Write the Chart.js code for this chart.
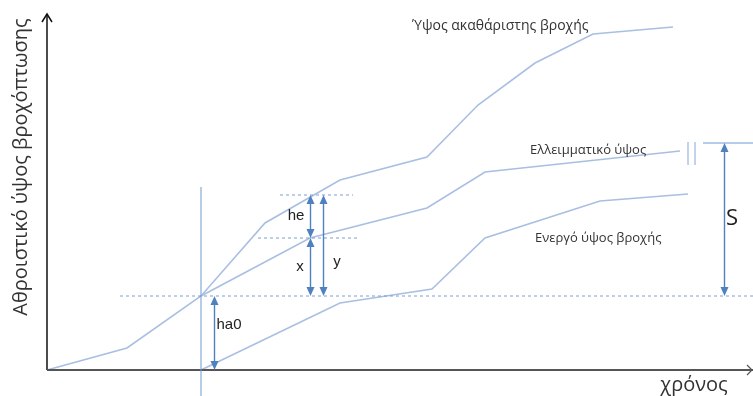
<!DOCTYPE html>
<html>
<head>
<meta charset="utf-8">
<script src="https://cdn.jsdelivr.net/npm/chart.js@4.4.1/dist/chart.umd.min.js"></script>
<style>
  html, body { margin: 0; padding: 0; background: #fff; }
  #myChart { display: block; }
</style>
</head>
<body>
<canvas id="myChart" width="753" height="396"></canvas>
<script>
// cumulative rainfall curves (time, depth)
const grossT = [0, 80, 154, 218, 293, 380, 431, 488, 546, 626];
const grossH = [0, 22, 74, 147, 190, 213, 265, 307, 336, 343];
const deficitT = [154, 263, 380, 438, 633];
const deficitH = [74, 132, 162, 198, 219];
const effectiveT = [154, 293, 385, 438, 553, 641];
const effectiveH = [0, 67, 81, 132, 169, 176];

// initial abstraction and storage
const tIa = 154;
const ia = 74;
const sTop = 227;

// dimension arrows: time, from depth, to depth, label
const dimT = [263, 263, 276, 167, 677];
const dimFrom = [132, ia, ia, 0, ia];
const dimTo = [175, 132, 175, ia, sTop];
const dimLabels = ["he", "x", "y", "ha0", "S"];

const curveNames = ["Ύψος ακαθάριστης βροχής", "Ελλειμματικό ύψος", "Ενεργό ύψος βροχής"];
const xTitle = "χρόνος";
const yTitle = "Αθροιστικό ύψος βροχόπτωσης";

const ctx = document.getElementById("myChart");

function toPoints(t, h) {
  return t.map(function (v, i) {
    return { x: v, y: h[i] };
  });
}

const curveStyle = {
  showLine: true,
  borderColor: "#a9bfe2",
  borderWidth: 1.6,
  pointRadius: 0,
  tension: 0,
  fill: false,
};

function arrowHead(c, x, y, dir) {
  // dir: -1 points up, 1 points down
  c.beginPath();
  c.moveTo(x, y);
  c.lineTo(x - 4, y - dir * 9);
  c.lineTo(x + 4, y - dir * 9);
  c.closePath();
  c.fill();
}

const sketch = {
  id: "sketch",
  afterDatasetsDraw(chart) {
    const c = chart.ctx;
    const xs = chart.scales.x;
    const ys = chart.scales.y;
    const px = (v) => xs.getPixelForValue(v);
    const py = (v) => ys.getPixelForValue(v);
    c.save();

    // axes
    c.strokeStyle = "#111";
    c.lineWidth = 1.5;
    c.beginPath();
    c.moveTo(px(0), py(0));
    c.lineTo(px(0), py(356));
    c.stroke();
    c.beginPath();
    c.moveTo(px(0) - 5, py(356) + 8);
    c.lineTo(px(0), py(356));
    c.lineTo(px(0) + 5, py(356) + 8);
    c.stroke();
    c.strokeStyle = "#555";
    c.lineWidth = 2;
    c.beginPath();
    c.moveTo(px(0), py(0));
    c.lineTo(px(706), py(0));
    c.stroke();
    c.lineWidth = 1.2;
    c.beginPath();
    c.moveTo(px(700), py(0) - 5);
    c.lineTo(px(705), py(0));
    c.lineTo(px(700), py(0) + 5);
    c.stroke();

    // dotted guides
    c.strokeStyle = "#7d9fd2";
    c.lineWidth = 1;
    c.setLineDash([3, 3]);
    c.beginPath();
    c.moveTo(px(73), py(ia));
    c.lineTo(px(706), py(ia));
    c.moveTo(px(233), py(175));
    c.lineTo(px(306), py(175));
    c.moveTo(px(211), py(132));
    c.lineTo(px(311), py(132));
    c.stroke();
    c.setLineDash([]);

    // start of runoff
    c.strokeStyle = "#6f98cf";
    c.beginPath();
    c.moveTo(px(tIa), py(183));
    c.lineTo(px(tIa), py(-26));
    c.stroke();

    // storage marks
    c.strokeStyle = "#8aa6d4";
    c.beginPath();
    c.moveTo(px(641), py(205));
    c.lineTo(px(641), py(228));
    c.moveTo(px(648), py(205));
    c.lineTo(px(648), py(228));
    c.stroke();
    c.strokeStyle = "#6f98cf";
    c.beginPath();
    c.moveTo(px(656), py(sTop));
    c.lineTo(px(706), py(sTop));
    c.stroke();

    // dimension arrows
    c.strokeStyle = "#4f80c0";
    c.fillStyle = "#4f80c0";
    c.lineWidth = 1.4;
    dimT.forEach(function (t, i) {
      const x = Math.round(px(t)) + 0.5;
      const y0 = py(dimFrom[i]);
      const y1 = py(dimTo[i]);
      c.beginPath();
      c.moveTo(x, y0 - 6);
      c.lineTo(x, y1 + 6);
      c.stroke();
      arrowHead(c, x, y0, 1);
      arrowHead(c, x, y1, -1);
    });

    // labels
    c.fillStyle = "#333";
    c.textBaseline = "middle";
    c.textAlign = "left";
    c.font = "14px 'Open Sans'";
    c.fillText(curveNames[0], px(365), py(344));
    c.font = "13px 'Open Sans'";
    c.fillText(curveNames[1], px(483), py(220));
    c.fillText(curveNames[2], px(488), py(132));

    c.textAlign = "center";
    c.font = "15px 'Liberation Sans'";
    c.fillStyle = "#222";
    c.fillText(dimLabels[0], px(249), py(154));
    c.fillText(dimLabels[1], px(253), py(103));
    c.fillText(dimLabels[2], px(290), py(108));
    c.fillText(dimLabels[3], px(182), py(45));
    c.font = "22px 'Open Sans'";
    c.fillText(dimLabels[4], px(685), py(151));

    c.fillStyle = "#333";
    c.font = "20px 'Open Sans'";
    c.fillText(xTitle, px(647), py(-15));
    c.translate(px(-26), py(203));
    c.rotate(-Math.PI / 2);
    c.fillText(yTitle, 0, 0);
    c.restore();
  },
};

new Chart(ctx, {
  type: "scatter",
  data: {
    datasets: [
      Object.assign({ label: curveNames[0], data: toPoints(grossT, grossH) }, curveStyle),
      Object.assign({ label: curveNames[1], data: toPoints(deficitT, deficitH) }, curveStyle),
      Object.assign({ label: curveNames[2], data: toPoints(effectiveT, effectiveH) }, curveStyle),
    ],
  },
  options: {
    responsive: false,
    animation: false,
    devicePixelRatio: 1,
    layout: { padding: 0 },
    plugins: {
      legend: { display: false },
      tooltip: { enabled: false },
    },
    scales: {
      x: { type: "linear", min: -47, max: 706, display: false },
      y: { type: "linear", min: -26, max: 370, display: false },
    },
  },
  plugins: [sketch],
});
</script>
</body>
</html>
